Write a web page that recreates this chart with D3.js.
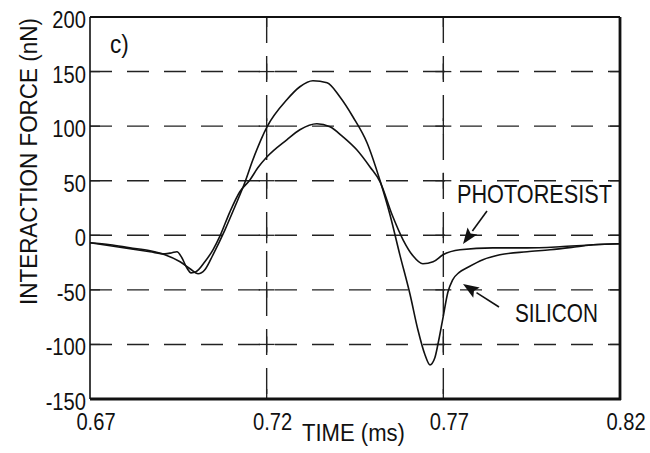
<!DOCTYPE html>
<html>
<head>
<meta charset="utf-8">
<script src="https://cdn.jsdelivr.net/npm/d3@7"></script>
<style>
  html, body { margin: 0; padding: 0; background: #fff; }
  svg { display: block; }
  text { font-family: "Liberation Sans", Arial, sans-serif; fill: #111; }
</style>
</head>
<body>
<svg id="chart" width="650" height="453"></svg>
<script>
// ---- data ----
const xTicks = [0.67, 0.72, 0.77, 0.82];
const xTickLabels = ["0.67", "0.72", "0.77", "0.82"];
const yTicks = [200, 150, 100, 50, 0, -50, -100, -150];
const yTickLabels = ["200", "150", "100", "50", "0", "-50", "-100", "-150"];

const siliconTime = [0.6700, 0.6757, 0.6813, 0.6870, 0.6912, 0.6955, 0.6983, 0.7006, 0.7025, 0.7048,
  0.7082, 0.7110, 0.7138, 0.7161, 0.7201, 0.7257, 0.7294, 0.7331, 0.7371, 0.7407,
  0.7444, 0.7484, 0.7521, 0.7549, 0.7577, 0.7606, 0.7628, 0.7648, 0.7662, 0.7676,
  0.7685, 0.7699, 0.7713, 0.7726, 0.7745, 0.7767, 0.7812, 0.7860, 0.7937, 0.8002,
  0.8078, 0.8124, 0.8200];
const siliconForce = [-6.9, -8.7, -11.5, -14.2, -17.9, -24.3, -30.7, -35.3, -31.6, -17.9,
  5.0, 26.1, 48.1, 69.2, 99.4, 124.2, 136.1, 141.6, 139.7, 126.9,
  108.6, 84.8, 49.9, 18.8, -17.9, -54.5, -86.6, -109.5, -118.7, -112.2,
  -99.4, -75.6, -52.0, -41.0, -34.0, -29.8, -22.4, -17.9, -15.1, -13.3,
  -10.5, -8.7, -7.8];

const photoresistTime = [0.6700, 0.6757, 0.6813, 0.6870, 0.6912, 0.6932, 0.6946, 0.6960, 0.6974, 0.6986,
  0.7000, 0.7025, 0.7048, 0.7068, 0.7096, 0.7124, 0.7153, 0.7175, 0.7201, 0.7257,
  0.7294, 0.7342, 0.7379, 0.7416, 0.7455, 0.7492, 0.7521, 0.7555, 0.7586, 0.7614,
  0.7642, 0.7671, 0.7699, 0.7747, 0.7840, 0.7937, 0.8030, 0.8124, 0.8200];
const photoresistForce = [-6.9, -9.6, -12.4, -15.1, -17.0, -16.0, -15.1, -20.6, -29.8, -34.4,
  -33.4, -24.3, -13.3, -0.5, 21.5, 39.9, 50.9, 61.8, 71.9, 87.5,
  96.7, 102.2, 99.4, 90.2, 78.3, 62.8, 49.0, 18.8, -4.1, -18.8,
  -26.1, -24.3, -17.9, -13.3, -11.5, -11.5, -10.5, -8.7, -7.8];

// ---- layout ----
const margin = {left: 90, right: 30, top: 17, bottom: 54};
const W = 650, H = 453;
const x = d3.scaleLinear().domain([0.67, 0.82]).range([margin.left, W - margin.right]);
const y = d3.scaleLinear().domain([-150, 200]).range([H - margin.bottom, margin.top]);

const svg = d3.select("#chart");
svg.append("rect").attr("width", W).attr("height", H).attr("fill", "#fff");

const x0 = x.range()[0], x1 = x.range()[1];
const yTop = y.range()[1], yBot = y.range()[0];

// dashed gridlines
const gridY = yTicks.filter(v => v > -150 && v < 200);
svg.append("g").selectAll("line").data(gridY).join("line")
  .attr("x1", x0).attr("x2", x1)
  .attr("y1", d => y(d)).attr("y2", d => y(d))
  .attr("stroke", "#222").attr("stroke-width", 1.4)
  .attr("stroke-dasharray", "22,15");
const gridX = xTicks.filter(v => v > 0.67 && v < 0.82);
svg.append("g").selectAll("line").data(gridX).join("line")
  .attr("x1", d => x(d)).attr("x2", d => x(d))
  .attr("y1", yTop).attr("y2", yBot)
  .attr("stroke", "#222").attr("stroke-width", 1.4)
  .attr("stroke-dasharray", "26,13");

// crosses at grid intersections
const cross = [];
gridX.forEach(tx => gridY.forEach(ty => cross.push([tx, ty])));
const cg = svg.append("g").attr("stroke", "#222").attr("stroke-width", 1.3);
cg.selectAll("line.h").data(cross).join("line").attr("class", "h")
  .attr("x1", d => x(d[0]) - 8).attr("x2", d => x(d[0]) + 8)
  .attr("y1", d => y(d[1])).attr("y2", d => y(d[1]));
cg.selectAll("line.v").data(cross).join("line").attr("class", "v")
  .attr("x1", d => x(d[0])).attr("x2", d => x(d[0]))
  .attr("y1", d => y(d[1]) - 8).attr("y2", d => y(d[1]) + 8);
// inward ticks on axes
cg.selectAll("line.lt").data(gridY).join("line").attr("class", "lt")
  .attr("x1", x0).attr("x2", x0 + 10).attr("y1", d => y(d)).attr("y2", d => y(d));
cg.selectAll("line.rt").data(gridY).join("line").attr("class", "rt")
  .attr("x1", x1 - 10).attr("x2", x1).attr("y1", d => y(d)).attr("y2", d => y(d));
cg.selectAll("line.tt").data(gridX).join("line").attr("class", "tt")
  .attr("x1", d => x(d)).attr("x2", d => x(d)).attr("y1", yTop).attr("y2", yTop + 10);
cg.selectAll("line.bt").data(gridX).join("line").attr("class", "bt")
  .attr("x1", d => x(d)).attr("x2", d => x(d)).attr("y1", yBot - 10).attr("y2", yBot);

// frame
svg.append("line").attr("x1", x0).attr("x2", x1).attr("y1", yTop).attr("y2", yTop)
  .attr("stroke", "#111").attr("stroke-width", 1.8);
svg.append("line").attr("x1", x0).attr("x2", x1 + 1).attr("y1", yBot).attr("y2", yBot)
  .attr("stroke", "#111").attr("stroke-width", 2.8);
svg.append("line").attr("x1", x0).attr("x2", x0).attr("y1", yTop).attr("y2", yBot)
  .attr("stroke", "#111").attr("stroke-width", 1.6);
svg.append("line").attr("x1", x1).attr("x2", x1).attr("y1", yTop).attr("y2", yBot + 1)
  .attr("stroke", "#111").attr("stroke-width", 2.8);

// curves
const line = d3.line().x(d => x(d[0])).y(d => y(d[1])).curve(d3.curveMonotoneX);
const silicon = siliconTime.map((t, i) => [t, siliconForce[i]]);
const photoresist = photoresistTime.map((t, i) => [t, photoresistForce[i]]);
svg.append("path").datum(silicon).attr("d", line)
  .attr("fill", "none").attr("stroke", "#111").attr("stroke-width", 1.6);
svg.append("path").datum(photoresist).attr("d", line)
  .attr("fill", "none").attr("stroke", "#111").attr("stroke-width", 1.6);

// tick labels (condensed)
const sx = 0.84;
svg.append("g").selectAll("g").data(yTicks).join("g")
  .attr("transform", d => `translate(${x0 - 4},${y(d) + 11}) scale(${sx},1)`)
  .append("text").attr("text-anchor", "end").attr("font-size", 24)
  .text((d, i) => yTickLabels[i]);
svg.append("g").selectAll("g").data(xTicks).join("g")
  .attr("transform", d => `translate(${x(d) + 6},${yBot + 31}) scale(${sx},1)`)
  .append("text").attr("text-anchor", "middle").attr("font-size", 24)
  .text((d, i) => xTickLabels[i]);

// fit a text to a target length by condensing it with a transform
function fitText(g, txt, size, target) {
  const t = g.append("text").attr("font-size", size).text(txt);
  const nat = t.node().getComputedTextLength();
  t.attr("transform", `scale(${Math.min(1, target / nat)},1)`);
  return t;
}

// axis titles
fitText(svg.append("g").attr("transform", "translate(302,441)"), "TIME (ms)", 24, 103);
fitText(svg.append("g").attr("transform", "translate(37,305) rotate(-90)"),
  "INTERACTION FORCE (nN)", 24, 287);

// panel label
svg.append("g").attr("transform", "translate(110,53) scale(0.9,1)")
  .append("text").attr("font-size", 25).text("c)");

// series labels and arrows
fitText(svg.append("g").attr("transform", "translate(457,203)"), "PHOTORESIST", 26, 155);
fitText(svg.append("g").attr("transform", "translate(515,322)"), "SILICON", 26, 83);

function arrow(tail, tip) {
  const dx = tip[0] - tail[0], dy = tip[1] - tail[1];
  const len = Math.hypot(dx, dy), ux = dx / len, uy = dy / len;
  const hl = 16, hw = 6;
  const bx = tip[0] - ux * hl, by = tip[1] - uy * hl;
  svg.append("line").attr("x1", tail[0]).attr("y1", tail[1]).attr("x2", bx).attr("y2", by)
    .attr("stroke", "#111").attr("stroke-width", 1.6);
  svg.append("path")
    .attr("d", `M${tip[0]},${tip[1]}L${bx - uy * hw},${by + ux * hw}L${bx + ux * 3},${by + uy * 3}L${bx + uy * hw},${by - ux * hw}Z`)
    .attr("fill", "#111");
}
arrow([487, 211], [463, 244]);
arrow([499, 307], [463, 284]);
</script>
</body>
</html>
